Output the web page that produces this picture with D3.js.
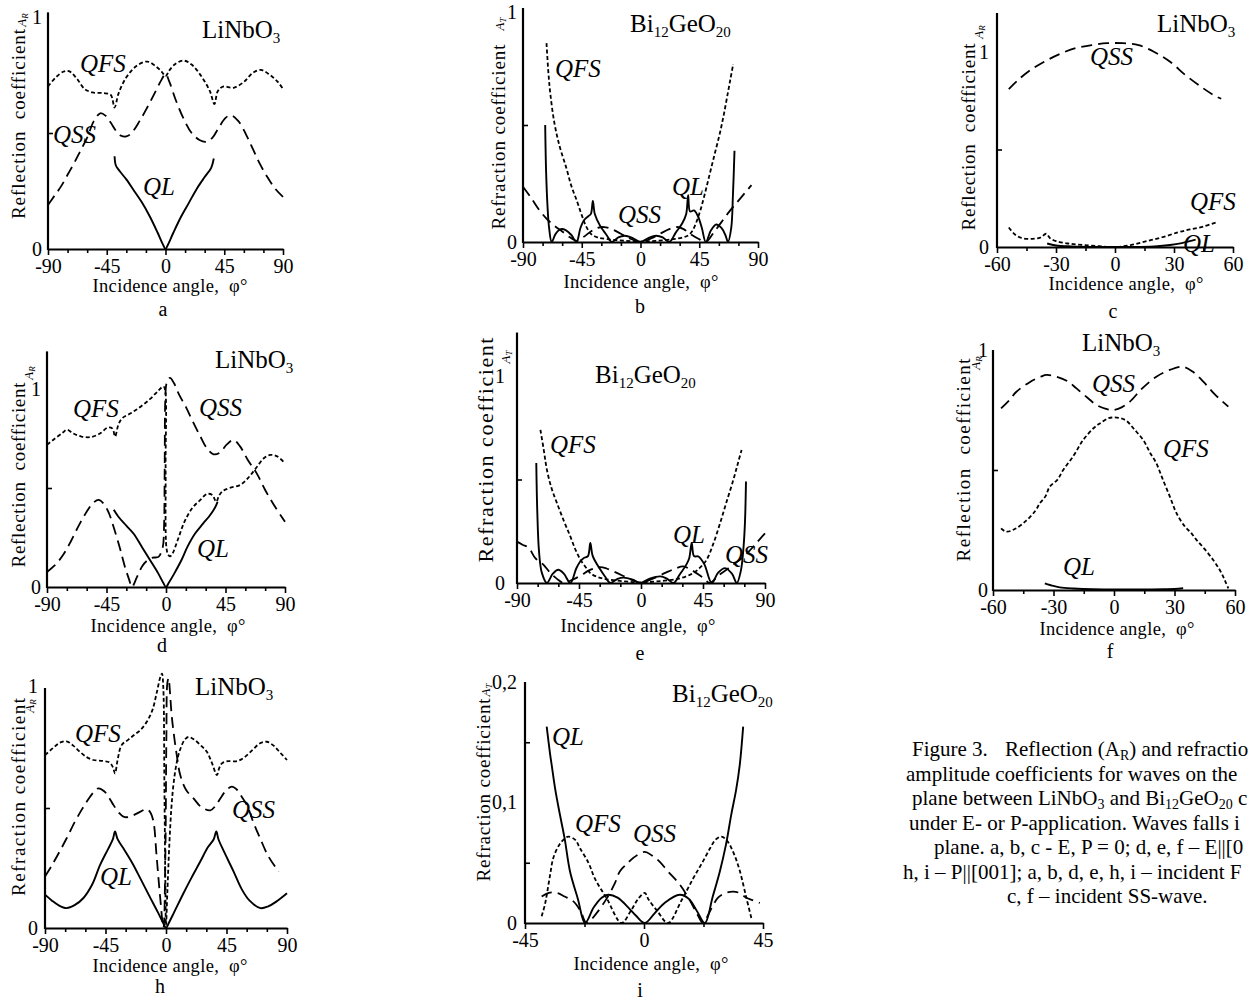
<!DOCTYPE html>
<html><head><meta charset="utf-8">
<script src="https://cdn.jsdelivr.net/npm/d3@7"></script>
<style>
body{margin:0;background:#fff}
svg{display:block}
text{font-family:"Liberation Serif","Times New Roman",serif;fill:#000}
</style>
</head><body>
<svg id="chart" width="1249" height="1004"></svg>
<script>
// ---------------- DATA (angle in degrees, coefficient) ----------------
const aQFS = [[-90,0.70],[-84,0.74],[-78,0.765],[-74,0.767],[-68,0.735],[-62,0.69],[-56,0.675],[-48,0.672],[-42,0.665],[-39,0.61],[-36,0.67],[-30,0.74],[-22,0.79],[-14,0.808],[-8,0.79],[-3,0.765],[0,0.745],[3,0.77],[8,0.80],[14,0.812],[20,0.795],[28,0.74],[34,0.68],[37.5,0.625],[40,0.68],[44,0.70],[52,0.695],[60,0.72],[67,0.76],[73,0.772],[80,0.75],[86,0.72],[90,0.69]];
const aQSS = [[-90,0.19],[-85,0.23],[-80,0.27],[-75,0.32],[-70,0.37],[-65,0.425],[-60,0.48],[-55,0.55],[-50,0.585],[-46,0.575],[-42,0.545],[-38,0.51],[-34,0.488],[-30,0.485],[-26,0.50],[-20,0.55],[-14,0.61],[-8,0.675],[-3,0.73],[0,0.755],[3,0.72],[8,0.64],[14,0.56],[20,0.50],[26,0.47],[31,0.462],[36,0.48],[41,0.525],[46,0.565],[50,0.577],[56,0.55],[62,0.49],[67,0.43],[72,0.37],[78,0.31],[84,0.26],[90,0.225]];
const aQL = [[-39,0.40],[-38,0.36],[-35,0.335],[-30,0.30],[-24,0.25],[-18,0.20],[-12,0.14],[-6,0.07],[-2,0.02],[0,0],[2,0.02],[6,0.07],[12,0.14],[18,0.20],[24,0.26],[30,0.31],[35,0.35],[37,0.39]];

const bQFS = [[-72,0.85],[-70.5,0.72],[-69,0.63],[-66,0.51],[-62,0.41],[-57,0.32],[-53,0.24],[-49,0.18],[-45,0.115],[-41.5,0.065],[-38,0.035],[-33,0.02],[-25,0.012],[-12,0.005],[0,0.002],[12,0.005],[25,0.012],[33,0.02],[37,0.03],[40,0.05],[45,0.12],[49,0.2],[53,0.29],[57,0.38],[61,0.47],[64,0.55],[67,0.64],[69,0.70],[71,0.76]];
const bQSS = [[-90,0.236],[-84,0.19],[-78,0.14],[-72,0.10],[-66,0.07],[-60,0.045],[-54,0.02],[-49,0.005],[-44,0.02],[-38,0.045],[-33,0.06],[-28,0.064],[-22,0.055],[-15,0.035],[-8,0.015],[0,0.0],[8,0.015],[15,0.035],[22,0.055],[28,0.064],[33,0.055],[38,0.035],[44,0.015],[50,0.0],[56,0.04],[62,0.085],[68,0.13],[74,0.17],[80,0.21],[85,0.243]];
const bQL = [[-73,0.50],[-72.3,0.30],[-71.2,0.15],[-70,0.06],[-68,0.0],[-65,0.035],[-61,0.055],[-57,0.05],[-53,0.03],[-49,0.0],[-46,0.06],[-43,0.095],[-40,0.11],[-38,0.12],[-36.5,0.175],[-35,0.12],[-31,0.07],[-26,0.03],[-22,0.0],[-17,0.02],[-12,0.027],[-6,0.017],[0,0.0],[6,0.017],[12,0.027],[17,0.02],[22,0.0],[27,0.04],[32,0.08],[35,0.12],[36.5,0.2],[38,0.13],[41,0.135],[44,0.11],[47,0.06],[50,0.0],[54,0.05],[58,0.075],[62,0.06],[65,0.03],[67,0.0],[69.5,0.06],[70.8,0.2],[72,0.39]];

const cQSS = [[-54,0.81],[-50,0.85],[-44,0.90],[-36,0.95],[-28,0.99],[-20,1.02],[-12,1.035],[-4,1.045],[4,1.045],[12,1.035],[20,1.00],[28,0.95],[36,0.88],[44,0.82],[50,0.78],[54,0.76]];
const cQFS = [[-54,0.10],[-51,0.065],[-47,0.045],[-42,0.042],[-38,0.048],[-35,0.068],[-33,0.045],[-30,0.03],[-24,0.018],[-16,0.01],[-8,0.004],[0,0.0],[8,0.01],[16,0.03],[24,0.05],[32,0.075],[38,0.09],[45,0.105],[52,0.128]];
const cQL = [[-34.5,0.018],[-30,0.008],[-22,0.003],[-10,0.0],[0,0.0],[10,0.0],[20,0.003],[28,0.01],[34,0.02],[38,0.03],[41,0.038]];

const dQFS = [[-90,0.718],[-84,0.75],[-78,0.78],[-75,0.794],[-70,0.775],[-64,0.76],[-57,0.757],[-50,0.775],[-44,0.805],[-40.5,0.80],[-38.5,0.76],[-36,0.82],[-33,0.853],[-26,0.88],[-19,0.912],[-12,0.95],[-6,0.99],[-2,1.013],[-0.8,1.0],[-0.3,0.6],[0.3,0.2],[1.5,0.165],[3,0.155],[5,0.17],[9,0.24],[14,0.33],[20,0.40],[26,0.44],[31,0.47],[35,0.465],[38,0.43],[40,0.46],[43,0.485],[48,0.50],[56,0.515],[62,0.55],[68,0.60],[74,0.65],[79,0.667],[84,0.66],[90,0.625]];
const dQSS = [[-90,0.076],[-84,0.11],[-78,0.16],[-72,0.23],[-66,0.31],[-60,0.38],[-55,0.425],[-51,0.44],[-47,0.42],[-43,0.37],[-39.5,0.30],[-35,0.2],[-31,0.1],[-28,0.04],[-25.8,0.0],[-22,0.05],[-18,0.105],[-14,0.135],[-10,0.148],[-5.7,0.152],[-2.5,0.2],[-1.5,0.3],[-1,0.6],[-0.5,0.95],[0.5,1.03],[3,1.056],[6,1.03],[10,0.97],[15,0.91],[20,0.84],[26,0.76],[31,0.70],[36,0.67],[41,0.68],[46,0.72],[51,0.743],[56,0.71],[62,0.64],[68.6,0.574],[75,0.49],[82,0.41],[90,0.33]];
const dQL = [[-39.5,0.39],[-36,0.355],[-30,0.31],[-24.6,0.27],[-18,0.2],[-12,0.135],[-6,0.07],[-2,0.02],[0,0],[2,0.02],[6,0.065],[12,0.14],[16,0.2],[22,0.27],[28,0.32],[33,0.36],[37,0.40],[39,0.43]];

const eQFS = [[-73,0.74],[-70.5,0.64],[-68.3,0.547],[-65,0.46],[-61,0.386],[-56,0.30],[-51.3,0.225],[-47.5,0.16],[-44,0.113],[-40,0.075],[-36.8,0.048],[-32,0.03],[-25,0.018],[-12,0.008],[0,0.003],[12,0.008],[25,0.018],[32,0.03],[38,0.048],[43,0.075],[47.7,0.113],[52.5,0.19],[57.4,0.289],[62,0.39],[67,0.498],[70,0.57],[73,0.643]];
const eQSS = [[-90,0.20],[-86,0.185],[-81.5,0.17],[-76.7,0.12],[-70.7,0.088],[-66,0.05],[-61,0.02],[-56,0.0],[-50,0.015],[-44,0.035],[-38,0.06],[-33,0.072],[-29.6,0.077],[-25,0.07],[-18,0.05],[-10,0.025],[-3,0.005],[0,0.0],[3,0.005],[10,0.025],[18,0.05],[25,0.07],[30.8,0.08],[36,0.065],[42,0.04],[46,0.02],[50,0.0],[56,0.035],[62,0.064],[67,0.09],[72,0.113],[78,0.15],[84,0.195],[90,0.24]];
const eQL = [[-76,0.58],[-75.3,0.35],[-74,0.15],[-72,0.05],[-68.3,0.0],[-64,0.045],[-60,0.064],[-56,0.045],[-51.3,0.0],[-47,0.07],[-44,0.105],[-41.7,0.12],[-38.5,0.13],[-36.8,0.193],[-35,0.13],[-30,0.07],[-26,0.03],[-22.3,0.0],[-17,0.02],[-12.7,0.026],[-6,0.016],[-0.6,0.0],[6,0.02],[14,0.032],[19,0.02],[23.6,0.0],[28,0.04],[33,0.09],[35,0.12],[36.8,0.193],[38.5,0.13],[41.7,0.128],[46,0.09],[51.3,0.0],[56,0.05],[61,0.072],[66,0.045],[69.5,0.0],[72.5,0.06],[74.5,0.18],[75.5,0.3],[76.2,0.49]];

const fQSS = [[-56,0.757],[-52,0.79],[-48.4,0.826],[-42,0.865],[-36,0.89],[-33.5,0.896],[-28.6,0.889],[-23,0.87],[-18.6,0.84],[-13,0.80],[-8.7,0.771],[-4,0.755],[-0.4,0.75],[4,0.762],[7.9,0.785],[14,0.84],[21,0.889],[28,0.918],[34.3,0.93],[39,0.91],[44.3,0.868],[50,0.815],[56.7,0.764]];
const fQFS = [[-56,0.257],[-53.4,0.243],[-49,0.255],[-43.4,0.29],[-39,0.33],[-36.8,0.361],[-34,0.39],[-31.9,0.43],[-28,0.46],[-25.2,0.50],[-20,0.56],[-15.3,0.625],[-10,0.675],[-7,0.694],[-3,0.715],[-0.4,0.719],[3,0.716],[6.2,0.705],[10,0.67],[14.5,0.625],[18,0.57],[21,0.528],[24,0.465],[27.7,0.389],[31,0.32],[35.2,0.264],[38,0.24],[41,0.208],[45,0.17],[49.2,0.125],[52,0.09],[54.2,0.055],[55.5,0.03],[56.7,0.007]];
const fQL = [[-34.3,0.028],[-30,0.017],[-26.9,0.011],[-20,0.006],[-15.3,0.004],[-5,0.002],[5,0.002],[15,0.002],[25,0.003],[30,0.004],[34.3,0.007]];

const hQFS = [[-90,0.72],[-84,0.75],[-79,0.772],[-74,0.778],[-69,0.76],[-64,0.734],[-59,0.712],[-54,0.70],[-47,0.696],[-42,0.69],[-39.5,0.67],[-37.9,0.644],[-36,0.70],[-33,0.762],[-28,0.785],[-24,0.803],[-19,0.825],[-14.3,0.859],[-10,0.91],[-6.8,0.983],[-4,1.05],[-3,1.06],[-2,1.0],[-1.2,0.6],[-0.5,0.2],[0,0.01],[1,0.15],[2.5,0.35],[4,0.50],[5.6,0.6],[8,0.69],[10.6,0.745],[14,0.785],[16.8,0.796],[21,0.785],[26,0.76],[30.4,0.734],[34,0.69],[37.9,0.637],[39.5,0.665],[41.6,0.686],[46,0.695],[52.8,0.695],[58,0.71],[64,0.74],[70,0.77],[75,0.776],[80,0.76],[85,0.73],[90,0.70]];
const hQSS = [[-90,0.215],[-85,0.26],[-79,0.32],[-73.9,0.374],[-68,0.44],[-63,0.49],[-59,0.526],[-54,0.565],[-50.3,0.582],[-46,0.57],[-42,0.54],[-39,0.512],[-35,0.48],[-31.7,0.464],[-28,0.462],[-24.2,0.47],[-19,0.485],[-14.3,0.496],[-11.5,0.48],[-9.3,0.443],[-7,0.3],[-4.3,0.125],[-1.9,0.0],[-0.5,0.3],[0.3,0.8],[1,1.02],[1.9,1.04],[3,0.98],[4,0.9],[5.6,0.817],[8,0.72],[10.6,0.637],[15,0.575],[20.5,0.54],[26,0.505],[32.9,0.49],[37,0.51],[40.4,0.54],[45,0.575],[49,0.589],[53,0.575],[56,0.55],[60.2,0.512],[65,0.44],[70,0.374],[76,0.3],[83.8,0.235]];
const hQL = [[-90,0.139],[-85,0.115],[-80,0.095],[-73.9,0.083],[-68,0.095],[-61.4,0.125],[-55,0.18],[-49,0.263],[-43,0.33],[-39.5,0.37],[-37.9,0.402],[-36,0.37],[-31.7,0.332],[-25,0.27],[-19.2,0.208],[-13,0.14],[-6,0.065],[-2,0.02],[0,0],[2,0.02],[6,0.065],[13,0.145],[19,0.21],[25.5,0.277],[31,0.335],[35.5,0.37],[37.4,0.402],[39,0.37],[43,0.32],[50.3,0.235],[56,0.165],[62,0.115],[70.2,0.083],[76,0.09],[82,0.11],[90,0.145]];

const iQL = [[-36.8,0.163],[-35.5,0.14],[-34.9,0.131],[-33.5,0.11],[-31.8,0.09],[-30,0.07],[-28,0.043],[-25,0.02],[-22.3,0.0],[-19,0.013],[-16,0.021],[-13.5,0.0234],[-10,0.021],[-6,0.013],[-3,0.006],[0.3,0.0],[4,0.008],[8,0.017],[13.5,0.0234],[17,0.02],[20,0.01],[23,0.0],[26,0.022],[28.7,0.043],[31,0.065],[33,0.09],[34.8,0.11],[36.2,0.131],[37.5,0.163]];
const iQFS = [[-38.7,0.0055],[-37.5,0.015],[-36.8,0.023],[-35.5,0.04],[-34.3,0.054],[-32,0.065],[-30,0.07],[-28.6,0.0717],[-26,0.069],[-24.2,0.062],[-21,0.05],[-18.6,0.037],[-14,0.02],[-8.5,0.0],[-5,0.01],[-2.2,0.02],[0.3,0.025],[1.6,0.02],[5,0.01],[9.1,0.0],[14,0.018],[18.6,0.037],[22,0.05],[25,0.062],[27,0.069],[29.3,0.0717],[31.5,0.068],[33.7,0.059],[36,0.045],[38.7,0.021],[40.6,0.004]];
const iQSS = [[-38.7,0.022],[-36,0.025],[-33,0.025],[-30,0.022],[-26.7,0.018],[-24,0.01],[-21.7,0.0],[-18,0.008],[-14.2,0.02],[-11,0.033],[-9.1,0.043],[-6,0.05],[-4.1,0.054],[0.3,0.059],[3,0.056],[5.9,0.051],[9,0.043],[13.5,0.032],[17,0.02],[20,0.008],[22.3,0.0],[25,0.01],[28,0.021],[31,0.025],[33.7,0.026],[36,0.025],[38.7,0.021],[41,0.019],[43.8,0.0166]];

// tick values and labels
const xTicks90 = [-90,-45,0,45,90];
const xMinor90 = [-75,-60,-30,-15,15,30,60,75];
const xTicks60 = [-60,-30,0,30,60];
const xMinor60 = [-45,-15,15,45];
const xTicks45 = [-45,0,45];
const xMinor45 = [-22.5,22.5];
const yTicksUnit = [0,1];
const yTickLabelsUnit = ["0","1"];
const yMinorUnit = [0.5];
const yTicksI = [0,0.1,0.2];
const yTickLabelsI = ["0","0,1","0,2"];
const yMinorI = [0.05,0.15];

const captionLines = [
  "amplitude coefficients for waves on the",
  null,
  "under E- or P-application. Waves falls i",
  "plane. a, b, c - E, P = 0; d, e, f \u2013 E||[0",
  "h, i \u2013 P||[001]; a, b, d, e, h, i \u2013 incident F",
  "c, f \u2013 incident SS-wave."
];

// ---------------- LAYOUT ----------------
const svg = d3.select("#chart");
const DASH = {QFS:"4,2.5", QSS:"11,6", QL:null};

const panels = [
 {xd:[-90,90], xr:[48,283], yd:[0,1], yr:[249,17], yTop:1.02, xt:xTicks90, xm:xMinor90, yt:yTicksUnit, ytl:yTickLabelsUnit, ym:yMinorUnit, ypad:6, topDy:0.32,
  series:[["QFS",aQFS],["QSS",aQSS],["QL",aQL]],
  ylab:{t:"Reflection  coefficient", x:25, y:124, len:190, fs:19}, amp:{s:"R", x:26, y:20},
  title:{k:"Li", x:202, y:38}, labels:[["QFS",80,72],["QSS",53,143],["QL",143,195]],
  xlab:{x:170, y:292}, letter:{t:"a", x:163, y:316}},
 {xd:[-90,90], xr:[523,758], yd:[0,1], yr:[242,8], yTop:1.0, xt:xTicks90, xm:xMinor90, yt:yTicksUnit, ytl:yTickLabelsUnit, ym:yMinorUnit, ypad:6, topDy:0.5,
  series:[["QFS",bQFS],["QSS",bQSS],["QL",bQL]],
  ylab:{t:"Refraction coefficient", x:505, y:137, len:185, fs:19}, amp:{s:"T", x:504, y:24},
  title:{k:"Bi", x:630, y:32}, labels:[["QFS",555,77],["QSS",618,223],["QL",672,195]],
  xlab:{x:641, y:288}, letter:{t:"b", x:640, y:313}},
 {xd:[-60,60], xr:[997,1233], yd:[0,1], yr:[247,52], yTop:1.2, xt:xTicks60, xm:xMinor60, yt:yTicksUnit, ytl:yTickLabelsUnit, ym:yMinorUnit, ypad:8, topDy:0.32,
  series:[["QSS",cQSS],["QFS",cQFS],["QL",cQL]],
  ylab:{t:"Reflection  coefficient", x:975, y:137, len:187, fs:19}, amp:{s:"R", x:983, y:32},
  title:{k:"Li", x:1157, y:32}, labels:[["QSS",1090,65],["QFS",1190,210],["QL",1183,252]],
  xlab:{x:1126, y:290}, letter:{t:"c", x:1113, y:318}},
 {xd:[-90,90], xr:[47,285], yd:[0,1], yr:[587,389], yTop:1.19, xt:xTicks90, xm:xMinor90, yt:yTicksUnit, ytl:yTickLabelsUnit, ym:yMinorUnit, ypad:6, topDy:0.32,
  series:[["QFS",dQFS],["QSS",dQSS],["QL",dQL]],
  ylab:{t:"Reflection  coefficient", x:25, y:475, len:185, fs:19}, amp:{s:"R", x:33, y:373},
  title:{k:"Li", x:215, y:368}, labels:[["QFS",73,417],["QSS",199,416],["QL",197,557]],
  xlab:{x:168, y:632}, letter:{t:"d", x:162, y:652}},
 {xd:[-90,90], xr:[517,765], yd:[0,1], yr:[583,376], yTop:1.21, xt:xTicks90, xm:xMinor90, yt:yTicksUnit, ytl:yTickLabelsUnit, ym:yMinorUnit, ypad:12, topDy:0.32,
  series:[["QFS",eQFS],["QSS",eQSS],["QL",eQL]],
  ylab:{t:"Refraction coefficient", x:493, y:450, len:225, fs:22}, amp:{s:"T", x:510, y:357},
  title:{k:"Bi", x:595, y:383}, labels:[["QFS",550,453],["QL",673,543],["QSS",725,563]],
  xlab:{x:638, y:632}, letter:{t:"e", x:640, y:660}},
 {xd:[-60,60], xr:[993,1235], yd:[0,1], yr:[590,350], yTop:1.0, xt:xTicks60, xm:xMinor60, yt:yTicksUnit, ytl:yTickLabelsUnit, ym:yMinorUnit, ypad:5, topDy:0.3,
  series:[["QSS",fQSS],["QFS",fQFS],["QL",fQL]],
  ylab:{t:"Reflection  coefficient", x:970, y:460, len:203, fs:19}, amp:{s:"R", x:980, y:363},
  title:{k:"Li", x:1082, y:351}, labels:[["QSS",1092,392],["QFS",1163,457],["QL",1063,575]],
  xlab:{x:1117, y:635}, letter:{t:"f", x:1110, y:658}},
 {xd:[-90,90], xr:[45,287], yd:[0,1], yr:[928,688], yTop:1.0, xt:xTicks90, xm:xMinor90, yt:yTicksUnit, ytl:yTickLabelsUnit, ym:yMinorUnit, ypad:7, topDy:0.2,
  series:[["QFS",hQFS],["QSS",hQSS],["QL",hQL]],
  ylab:{t:"Refraction coefficient", x:25, y:797, len:198, fs:19}, amp:{s:"R", x:34, y:706},
  title:{k:"Li", x:195, y:695}, labels:[["QFS",75,742],["QSS",232,818],["QL",100,885]],
  xlab:{x:170, y:972}, letter:{t:"h", x:160, y:993}},
 {xd:[-45,45], xr:[525,763], yd:[0,0.2], yr:[923,682], yTop:0.2, xt:xTicks45, xm:xMinor45, yt:yTicksI, ytl:yTickLabelsI, ym:yMinorI, ypad:8, topDy:0.32,
  series:[["QFS",iQFS],["QSS",iQSS],["QL",iQL]],
  ylab:{t:"Refraction coefficient", x:490, y:790, len:183, fs:19}, amp:{s:"T", x:490, y:690},
  title:{k:"Bi", x:672, y:702}, labels:[["QL",552,745],["QFS",575,832],["QSS",633,842]],
  xlab:{x:651, y:970}, letter:{t:"i", x:640, y:997}}
];

function addTitle(g, t) {
  const tx = g.append("text").attr("x", t.x).attr("y", t.y).attr("font-size", 25);
  if (t.k === "Li") {
    tx.append("tspan").text("LiNbO");
    tx.append("tspan").attr("font-size", 15).attr("dy", 5).text("3");
  } else {
    tx.append("tspan").text("Bi");
    tx.append("tspan").attr("font-size", 15).attr("dy", 5).text("12");
    tx.append("tspan").attr("dy", -5).text("GeO");
    tx.append("tspan").attr("font-size", 15).attr("dy", 5).text("20");
  }
}

function drawPanel(p) {
  const g = svg.append("g");
  const x = d3.scaleLinear().domain(p.xd).range(p.xr);
  const y = d3.scaleLinear().domain(p.yd).range(p.yr);
  const line = d3.line().x(d => x(d[0])).y(d => y(d[1])).curve(d3.curveCatmullRom.alpha(0.5));

  p.series.forEach(([name, data]) => {
    g.append("path").attr("d", line(data)).attr("fill", "none").attr("stroke", "#000")
      .attr("stroke-width", name === "QL" ? 1.9 : 1.8)
      .attr("stroke-dasharray", DASH[name]).attr("stroke-linejoin", "round");
  });

  const y0 = y(0);
  // x axis (major ticks + labels)
  const xa = g.append("g").attr("transform", `translate(0,${y0})`)
    .call(d3.axisBottom(x).tickValues(p.xt).tickSize(6).tickSizeOuter(0).tickPadding(4)
      .tickFormat(d => String(d).replace("\u2212", "-")));
  xa.select(".domain").attr("stroke", "#000").attr("stroke-width", 2.2);
  xa.selectAll(".tick line").attr("stroke", "#000").attr("stroke-width", 1.6);
  xa.selectAll(".tick text").attr("font-size", 20).attr("font-family", '"Liberation Serif",serif').attr("fill", "#000");
  // minor x ticks
  const xm = g.append("g").attr("transform", `translate(0,${y0})`)
    .call(d3.axisBottom(x).tickValues(p.xm).tickSize(4).tickFormat(""));
  xm.select(".domain").remove();
  xm.selectAll(".tick line").attr("stroke", "#000").attr("stroke-width", 1.6);

  // y axis line
  const x0 = p.xr[0];
  g.append("line").attr("x1", x0).attr("x2", x0).attr("y1", y0 + 1).attr("y2", y(p.yTop))
    .attr("stroke", "#000").attr("stroke-width", 2.2);
  // y labels
  const ya = g.append("g").attr("transform", `translate(${x0},0)`)
    .call(d3.axisLeft(y).tickValues(p.yt).tickSize(0).tickPadding(p.ypad)
      .tickFormat((d, i) => p.ytl[i]));
  ya.select(".domain").remove();
  ya.selectAll(".tick text").attr("font-size", 20).attr("font-family", '"Liberation Serif",serif').attr("fill", "#000")
    .attr("dy", (d, i) => (i === p.yt.length - 1 ? p.topDy : 0.32) + "em");
  // minor y ticks (inward)
  const ym = g.append("g").attr("transform", `translate(${x0},0)`)
    .call(d3.axisRight(y).tickValues(p.ym).tickSize(5).tickFormat(""));
  ym.select(".domain").remove();
  ym.selectAll(".tick line").attr("stroke", "#000").attr("stroke-width", 1.6);

  // y axis title (rotated)
  g.append("text").attr("transform", `translate(${p.ylab.x},${p.ylab.y}) rotate(-90)`)
    .attr("text-anchor", "middle").attr("font-size", p.ylab.fs)
    .attr("textLength", p.ylab.len).attr("lengthAdjust", "spacing")
    .style("white-space", "pre").text(p.ylab.t);
  const at = g.append("text").attr("transform", `translate(${p.amp.x},${p.amp.y}) rotate(-90)`)
    .attr("text-anchor", "middle").attr("font-size", 13).attr("font-style", "italic");
  at.append("tspan").text("A");
  at.append("tspan").attr("font-size", 9).attr("dy", 2).text(p.amp.s);

  addTitle(g, p.title);

  p.labels.forEach(([t, lx, ly]) => {
    g.append("text").attr("x", lx).attr("y", ly).attr("font-size", 25).attr("font-style", "italic").text(t);
  });

  g.append("text").attr("x", p.xlab.x).attr("y", p.xlab.y).attr("text-anchor", "middle")
    .attr("font-size", 18.5).attr("textLength", 155).attr("lengthAdjust", "spacing")
    .style("white-space", "pre").text("Incidence angle,  \u03c6\u00b0");
  g.append("text").attr("x", p.letter.x).attr("y", p.letter.y).attr("text-anchor", "middle")
    .attr("font-size", 20).text(p.letter.t);
}

panels.forEach(drawPanel);

// ---------------- CAPTION ----------------
const cap = svg.append("g").attr("font-size", 21);
const capY = [756, 780.5, 805, 829.5, 854, 878.5, 903];
// line 1
const l1 = cap.append("text").attr("y", capY[0]);
l1.append("tspan").attr("x", 912).text("Figure 3.");
l1.append("tspan").attr("x", 1005).text("Reflection (A");
l1.append("tspan").attr("font-size", 14).attr("dy", 4).text("R");
l1.append("tspan").attr("dy", -4).text(") and refractio");
// line 2
cap.append("text").attr("x", 906).attr("y", capY[1]).text(captionLines[0]);
// line 3 with subscripts
const l3 = cap.append("text").attr("x", 912).attr("y", capY[2]);
l3.append("tspan").text("plane between LiNbO");
l3.append("tspan").attr("font-size", 14).attr("dy", 4).text("3");
l3.append("tspan").attr("dy", -4).text(" and Bi");
l3.append("tspan").attr("font-size", 14).attr("dy", 4).text("12");
l3.append("tspan").attr("dy", -4).text("GeO");
l3.append("tspan").attr("font-size", 14).attr("dy", 4).text("20");
l3.append("tspan").attr("dy", -4).text(" c");
cap.append("text").attr("x", 909).attr("y", capY[3]).text(captionLines[2]);
cap.append("text").attr("x", 934).attr("y", capY[4]).text(captionLines[3]);
cap.append("text").attr("x", 903).attr("y", capY[5]).text(captionLines[4]);
cap.append("text").attr("x", 1007).attr("y", capY[6]).text(captionLines[5]);
</script>
</body></html>
